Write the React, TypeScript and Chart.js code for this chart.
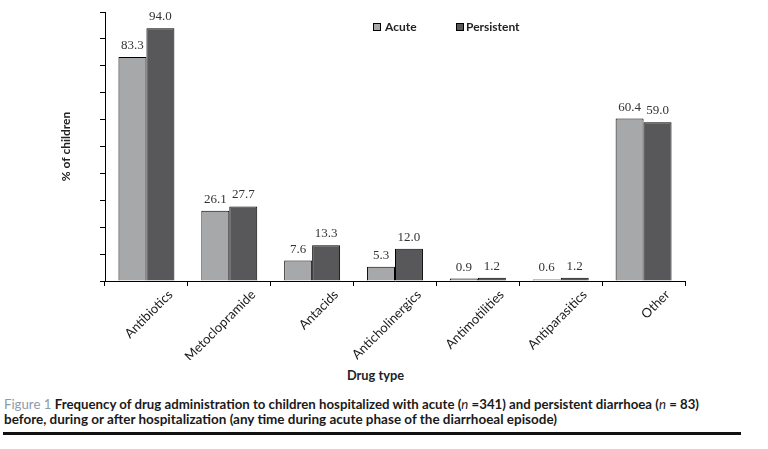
import React, { useEffect, useLayoutEffect, useRef } from "react";
import { Chart, registerables } from "chart.js";

Chart.register(...registerables);

const categories = [
  "Antibiotics",
  "Metoclopramide",
  "Antacids",
  "Anticholinergics",
  "Antimotilities",
  "Antiparasitics",
  "Other",
];
const acuteValues = [83.3, 26.1, 7.6, 5.3, 0.9, 0.6, 60.4];
const persistentValues = [94.0, 27.7, 13.3, 12.0, 1.2, 1.2, 59.0];
const seriesNames = ["Acute", "Persistent"];
const yTicks = [0, 10, 20, 30, 40, 50, 60, 70, 80, 90, 100];

const ACUTE_COLOR = "#a7a8aa";
const PERSIST_COLOR = "#58585b";

const valueLabelPlugin = {
  id: "valueLabels",
  afterDatasetsDraw(chart: any) {
    const ctx = chart.ctx;
    ctx.save();
    ctx.font = '13px "Liberation Serif", serif';
    ctx.fillStyle = "#333";
    ctx.textAlign = "center";
    ctx.textBaseline = "alphabetic";
    chart.data.datasets.forEach((ds: any, di: number) => {
      const meta = chart.getDatasetMeta(di);
      meta.data.forEach((el: any, i: number) => {
        const v = ds.data[i] as number;
        ctx.fillText(v.toFixed(1), el.x, el.y - 8);
      });
    });
    ctx.restore();
  },
};

function FitText({ width, children, style }: any) {
  const ref = useRef<HTMLSpanElement>(null);
  useLayoutEffect(() => {
    const el = ref.current;
    if (!el) return;
    el.style.transform = "none";
    const w = el.getBoundingClientRect().width;
    if (w > 0) el.style.transform = `scaleX(${width / w})`;
  });
  return (
    <span
      ref={ref}
      style={{
        display: "inline-block",
        whiteSpace: "nowrap",
        transformOrigin: "left center",
        ...style,
      }}
    >
      {children}
    </span>
  );
}

export default function App() {
  const canvasRef = useRef<HTMLCanvasElement>(null);

  useEffect(() => {
    if (!canvasRef.current) return;
    const chart = new Chart(canvasRef.current, {
      type: "bar",
      data: {
        labels: categories,
        datasets: [
          {
            label: seriesNames[0],
            data: acuteValues,
            backgroundColor: ACUTE_COLOR,
            borderColor: "#000",
            borderWidth: 1,
            categoryPercentage: 0.675,
            barPercentage: 1,
          },
          {
            label: seriesNames[1],
            data: persistentValues,
            backgroundColor: PERSIST_COLOR,
            borderColor: "#000",
            borderWidth: 1,
            categoryPercentage: 0.675,
            barPercentage: 1,
          },
        ],
      },
      options: {
        animation: false,
        responsive: false,
        devicePixelRatio: 1,
        layout: { padding: { top: 12, right: 83, left: 0, bottom: 0 } },
        plugins: {
          legend: { display: false },
          tooltip: { enabled: false },
        },
        scales: {
          x: {
            grid: {
              display: true,
              drawOnChartArea: false,
              drawTicks: true,
              tickLength: 5,
              color: "#000",
              offset: true,
            },
            border: { display: true, color: "#000", width: 1 },
            ticks: {
              autoSkip: false,
              maxRotation: 45,
              minRotation: 45,
              padding: 1,
              labelOffset: 24,
              color: "#1a1a1a",
              font: { family: "Lato", size: 13 },
            },
            afterFit: (scale: any) => {
              scale.height = 79;
            },
          },
          y: {
            min: 0,
            max: 100,
            afterBuildTicks: (scale: any) => {
              scale.ticks = yTicks.map((v) => ({ value: v }));
            },
            grid: {
              display: true,
              drawOnChartArea: false,
              drawTicks: true,
              tickLength: 5,
              color: "#000",
            },
            border: { display: true, color: "#000", width: 1 },
            ticks: { display: false },
            title: {
              display: true,
              text: "% of children",
              color: "#222",
              font: { family: "Lato", size: 12, weight: "bold" },
              padding: { top: 59, bottom: 0 },
            },
            afterFit: (scale: any) => {
              scale.width = 105;
            },
          },
        },
      },
      plugins: [valueLabelPlugin],
    } as any);
    return () => chart.destroy();
  }, []);

  const legendText: React.CSSProperties = {
    position: "absolute",
    fontFamily: "Lato, sans-serif",
    fontWeight: "bold",
    fontSize: 12,
    color: "#222",
    lineHeight: "14px",
    top: 20,
  };
  const box = (left: number, color: string): React.CSSProperties => ({
    position: "absolute",
    left,
    top: 23,
    width: 6,
    height: 6,
    border: "1px solid #000",
    background: color,
  });

  return (
    <div
      style={{
        position: "fixed",
        left: 0,
        top: 0,
        width: 768,
        height: 449,
        background: "#fff",
        overflow: "hidden",
      }}
    >
      <canvas
        ref={canvasRef}
        width={768}
        height={360}
        style={{ position: "absolute", left: 0, top: 0, width: 768, height: 360 }}
      />
      <div style={box(373, ACUTE_COLOR)} />
      <div style={{ ...legendText, left: 385 }}>{seriesNames[0]}</div>
      <div style={box(456, PERSIST_COLOR)} />
      <div style={{ ...legendText, left: 466 }}>{seriesNames[1]}</div>

      <div
        style={{
          position: "absolute",
          left: 347,
          top: 368,
          fontFamily: "Lato, sans-serif",
          fontWeight: "bold",
          fontSize: 12.5,
          lineHeight: "16px",
          color: "#222",
        }}
      >
        <FitText width={57}>Drug type</FitText>
      </div>

      <div
        style={{
          position: "absolute",
          left: 4,
          top: 397,
          fontFamily: "Lato, sans-serif",
          fontWeight: "bold",
          fontSize: 12.5,
          lineHeight: "16px",
          color: "#1a1a1a",
        }}
      >
        <FitText width={695}>
          <span style={{ color: "#8b9bab", fontWeight: "normal" }}>Figure 1 </span>
          Frequency of drug administration to children hospitalized with acute (
          <i style={{ fontWeight: "normal" }}>n</i> =341) and persistent diarrhoea (
          <i style={{ fontWeight: "normal" }}>n</i> = 83)
        </FitText>
      </div>
      <div
        style={{
          position: "absolute",
          left: 4,
          top: 412,
          fontFamily: "Lato, sans-serif",
          fontWeight: "bold",
          fontSize: 12.5,
          lineHeight: "16px",
          color: "#1a1a1a",
        }}
      >
        <FitText width={553}>
          before, during or after hospitalization (any time during acute phase of the diarrhoeal episode)
        </FitText>
      </div>
      <div
        style={{
          position: "absolute",
          left: 3,
          top: 432,
          width: 738,
          height: 3,
          background: "#111",
        }}
      />
    </div>
  );
}
